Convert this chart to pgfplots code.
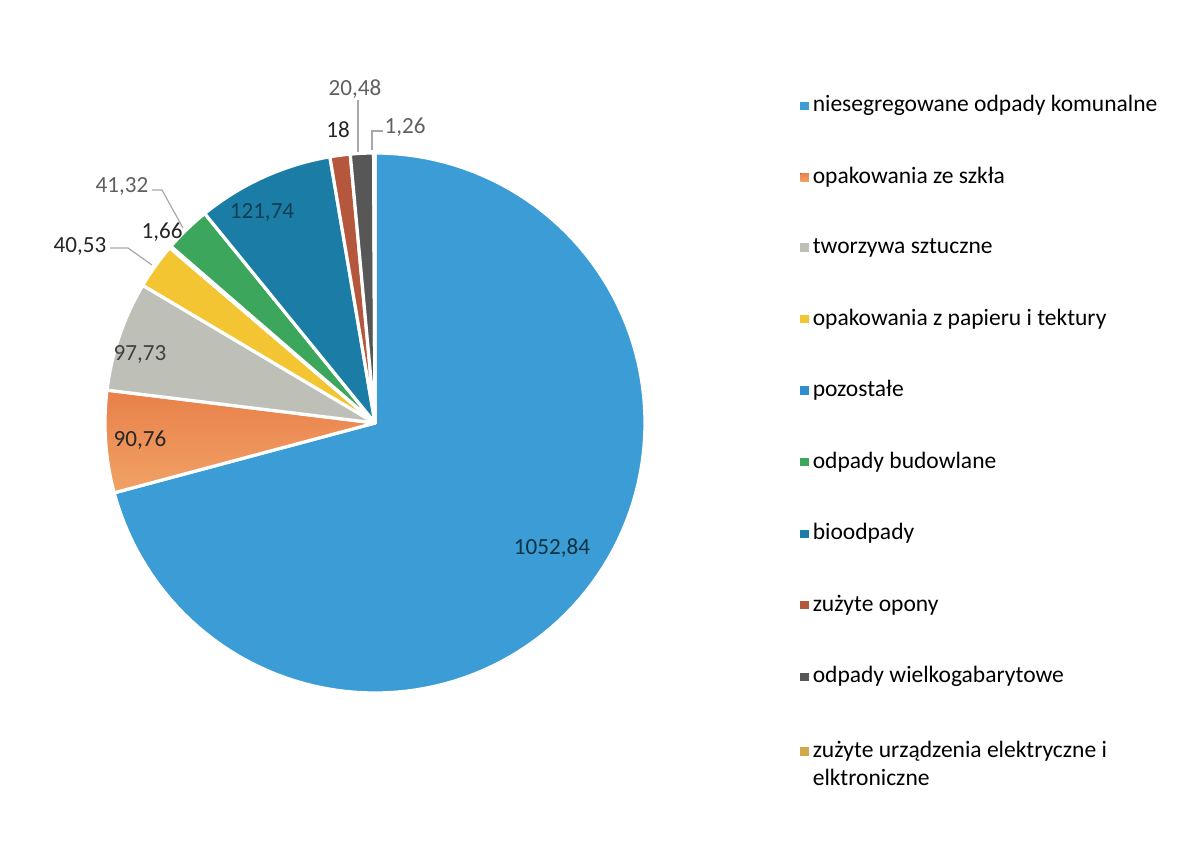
\documentclass[border=0pt]{standalone}
\usepackage{fontspec}
\setmainfont{Carlito}
\usepackage{pgfplots}
\usepackage{pgfplotstable}
\pgfplotsset{compat=1.18}
\definecolor{c1}{HTML}{3C9DD6}
\definecolor{c2}{HTML}{EC8A52}
\definecolor{c2top}{HTML}{E8804A}
\definecolor{c2bot}{HTML}{F1A266}
\definecolor{c3}{HTML}{BEC0B8}
\definecolor{c4}{HTML}{F3C532}
\definecolor{c5}{HTML}{2F8ED0}
\definecolor{c6}{HTML}{3BA65C}
\definecolor{c7}{HTML}{1B7DA6}
\definecolor{c8}{HTML}{B5573C}
\definecolor{c9}{HTML}{575757}
\definecolor{c10}{HTML}{D4A84A}
\definecolor{lblgray}{HTML}{606060}
\definecolor{leader}{HTML}{A8A8A8}
\tikzset{
  s1/.style={fill=c1}, s2/.style={top color=c2top, bottom color=c2bot},
  s3/.style={fill=c3}, s4/.style={fill=c4}, s5/.style={fill=c5}, s6/.style={fill=c6},
  s7/.style={fill=c7}, s8/.style={fill=c8}, s9/.style={fill=c9}, s10/.style={fill=c10}}
\pgfplotstableread[col sep=comma]{
value,style
1052.84,s1
90.76,s2
97.73,s3
40.53,s4
1.66,s5
41.32,s6
121.74,s7
18,s8
20.48,s9
1.26,s10
}\piedata
\begin{document}
\begin{tikzpicture}
\gdef\total{0}
\pgfplotstablegetrowsof{\piedata}
\pgfmathtruncatemacro\nrows{\pgfplotsretval-1}
\foreach \i in {0,...,\nrows}{%
  \pgfplotstablegetelem{\i}{value}\of\piedata
  \pgfmathsetmacro\t{\total+\pgfplotsretval}%
  \global\let\total\t}
\begin{axis}[x=0.5bp,y=0.5bp,xmin=0,xmax=1181,ymin=0,ymax=858,
  hide axis,clip=false,
  legend image code/.code={\fill[#1,draw=none] (0bp,0.9bp) rectangle (4.2bp,5.1bp);},
  legend style={at={(axis cs:800,767)},anchor=north west,draw=none,fill=none,
    font=\fontsize{11.8}{14}\selectfont,row sep=22.15bp,
    cells={anchor=base west},inner sep=0pt},
  legend entries={niesegregowane odpady komunalne,opakowania ze szkła,tworzywa sztuczne,
    opakowania z papieru i tektury,pozostałe,odpady budowlane,bioodpady,zużyte opony,
    odpady wielkogabarytowe,
    {\begin{tabular}[t]{@{}l@{}}zużyte urządzenia elektryczne i\\elktroniczne\end{tabular}}},
  ]
\path (axis cs:0,0) rectangle (axis cs:1181,858);
\gdef\curang{90}
\pgfplotsforeachungrouped \i in {0,...,9}{%
  \pgfplotstablegetelem{\i}{value}\of\piedata \let\v\pgfplotsretval
  \pgfplotstablegetelem{\i}{style}\of\piedata \let\c\pgfplotsretval
  \pgfmathsetmacro\frac{\v/\total}%
  \pgfmathsetmacro\endang{\curang-360*\frac}%
  \edef\cmd{\noexpand\addplot[\c,draw=white,line width=1.6bp,line join=round,
     domain=\endang:\curang,samples=120]
     ({375+270*cos(x)},{435+270*sin(x)}) -- (375,435) -- cycle;}%
  \cmd
  \global\let\curang\endang
}
\begin{scope}[font=\fontsize{11.6}{13}\selectfont]
\node[text=c7!40!black] at (axis cs:552,310) {1052,84};
\node[text=c7!50!black] at (axis cs:262,646) {121,74};
\node[text=black!75] at (axis cs:140,504) {97,73};
\node[text=black!85] at (axis cs:140,418) {90,76};
\node[text=lblgray] at (axis cs:122,672) {41,32};
\node[text=black!85] at (axis cs:162,626) {1,66};
\node[text=black!85] at (axis cs:80,612) {40,53};
\node[text=black!85] at (axis cs:338,728) {18};
\node[text=lblgray] at (axis cs:355,769) {20,48};
\node[text=lblgray] at (axis cs:405,731) {1,26};
\end{scope}
\draw[leader,line width=0.6bp] (axis cs:152,668) -- (axis cs:162,668) -- (axis cs:183,630);
\draw[leader,line width=0.6bp] (axis cs:110,610) -- (axis cs:128,610) -- (axis cs:152,593);
\draw[leader,line width=0.6bp] (axis cs:358,758) -- (axis cs:358,706);
\draw[leader,line width=0.6bp] (axis cs:383,727) -- (axis cs:372,727) -- (axis cs:372,708);
\end{axis}
\end{tikzpicture}
\end{document}
